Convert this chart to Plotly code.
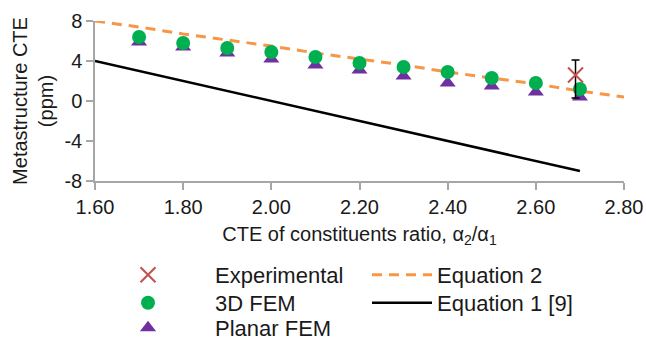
import plotly.graph_objects as go

# ---- data ----
ratio_fem = [1.7, 1.8, 1.9, 2.0, 2.1, 2.2, 2.3, 2.4, 2.5, 2.6, 2.7]
fem_3d = [6.4, 5.8, 5.3, 4.9, 4.4, 3.8, 3.4, 2.9, 2.3, 1.8, 1.2]
fem_planar = [5.9, 5.4, 4.8, 4.2, 3.6, 3.1, 2.5, 1.8, 1.5, 0.9, 0.4]

ratio_eq2 = [1.6, 1.7, 1.8, 1.9, 2.0, 2.1, 2.2, 2.3, 2.4, 2.5, 2.6, 2.7, 2.8]
eq2 = [8.0, 7.4, 6.7, 6.1, 5.5, 4.8, 4.2, 3.6, 2.9, 2.3, 1.7, 1.0, 0.4]

ratio_eq1 = [1.6, 1.7, 1.8, 1.9, 2.0, 2.1, 2.2, 2.3, 2.4, 2.5, 2.6, 2.7]
eq1 = [4, 3, 2, 1, 0, -1, -2, -3, -4, -5, -6, -7]

ratio_exp = [2.69]
exp_val = [2.6]
exp_err_plus = [1.5]
exp_err_minus = [2.3]

x_ticks = [1.6, 1.8, 2.0, 2.2, 2.4, 2.6, 2.8]
y_ticks = [-8, -4, 0, 4, 8]
y_tick_labels = ["-8", "-4", "0", "4", "8"]

FONT = "Liberation Sans, Arial, sans-serif"
TXT = "#1a1a1a"
AX = "#a6a6a6"
W, H = 646, 340
ML, MR, MT, MB = 95, 22, 21, 159
PW, PH = W - ML - MR, H - MT - MB

fig = go.Figure()

fig.add_trace(go.Scatter(
    x=ratio_eq2, y=eq2, mode="lines", name="Equation 2",
    line=dict(color="#F79646", width=3, dash="10px,7px"),
    legend="legend4"))
fig.add_trace(go.Scatter(
    x=ratio_eq1, y=eq1, mode="lines", name="Equation 1 [9]",
    line=dict(color="#000000", width=2.5),
    legend="legend5"))
fig.add_trace(go.Scatter(
    x=ratio_fem, y=fem_planar, mode="markers", name="Planar FEM",
    marker=dict(symbol="triangle-up", size=14, color="#7030A0"),
    legend="legend3"))
fig.add_trace(go.Scatter(
    x=ratio_fem, y=fem_3d, mode="markers", name="3D FEM",
    marker=dict(symbol="circle", size=14, color="#00B050"),
    legend="legend2"))
fig.add_trace(go.Scatter(
    x=ratio_exp, y=exp_val, mode="markers", name="Experimental",
    marker=dict(symbol="x-thin-open", size=15,
                line=dict(color="#C0504D", width=2), color="#C0504D"),
    error_y=dict(type="data", symmetric=False, array=exp_err_plus,
                 arrayminus=exp_err_minus, color="#000000",
                 thickness=1.5, width=4),
    legend="legend"))


def leg(px, py, iw):
    return dict(
        x=(px - ML) / PW, y=(H - MB - py) / PH,
        xanchor="left", yanchor="middle",
        itemwidth=iw, bgcolor="rgba(0,0,0,0)",
        font=dict(size=22, color=TXT), borderwidth=0,
    )


fig.update_layout(
    width=W, height=H,
    margin=dict(l=ML, r=MR, t=MT, b=MB, autoexpand=False),
    paper_bgcolor="white", plot_bgcolor="white",
    font=dict(family=FONT, size=20, color=TXT),
    xaxis=dict(
        range=[1.6, 2.8], tickvals=x_ticks, tickformat=".2f",
        showline=True, linecolor=AX, linewidth=1.5,
        ticks="outside", tickcolor=AX, ticklen=7, tickwidth=1.5,
        showgrid=False, zeroline=False,
        tickfont=dict(size=20, color=TXT),
        title=dict(text="CTE of constituents ratio, α<sub>2</sub>/α<sub>1</sub>",
                   font=dict(size=20, color=TXT), standoff=10),
    ),
    yaxis=dict(
        range=[-8, 8], tickvals=y_ticks, ticktext=y_tick_labels,
        showline=True, linecolor=AX, linewidth=1.5,
        ticks="outside", tickcolor=AX, ticklen=7, tickwidth=1.5,
        showgrid=False, zeroline=False,
        tickfont=dict(size=20, color=TXT),
        title=dict(text="Metastructure CTE<br>(ppm)",
                   font=dict(size=20, color=TXT), standoff=5),
    ),
    legend=leg(81, 275, 124),
    legend2=leg(81, 303, 124),
    legend3=leg(81, 328, 124),
    legend4=leg(367, 275, 60),
    legend5=leg(367, 303, 60),
    showlegend=True,
)

fig.write_html("out.html")
